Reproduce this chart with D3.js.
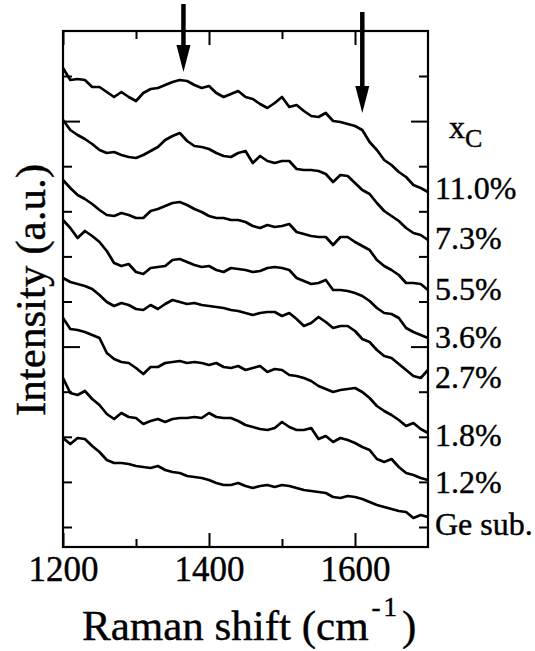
<!DOCTYPE html>
<html>
<head>
<meta charset="utf-8">
<script src="https://cdn.jsdelivr.net/npm/d3@7"></script>
<style>
body { margin: 0; background: #fff; }
svg { display: block; }
text { font-family: "Liberation Serif", "Times New Roman", serif; fill: #000; stroke: #000; stroke-width: 0.4px; }
</style>
</head>
<body>
<svg id="svg"></svg>
<script>
// Raman shift grid (cm-1)
var shift = [1200,1210,1220,1230,1240,1250,1260,1270,1280,1290,
	1300,1310,1320,1330,1340,1350,1360,1370,1380,1390,
	1400,1410,1420,1430,1440,1450,1460,1470,1480,1490,
	1500,1510,1520,1530,1540,1550,1560,1570,1580,1590,
	1600,1610,1620,1630,1640,1650,1660,1670,1680,1690,1700];

// intensities (a.u., offset stacked)
var xc110 = [479,467,468,467,460,460,455,450,455,450,446,454,458,459,462,465,467,466,462,459,
	461,454,450,453,456,450,448,443,439,444,450,440,442,436,431,430,434,426,425,423,
	421,417,405,397,387,382,375,370,362,359,355];
var xc73 = [427,417,412,408,403,397,394,395,392,390,389,392,396,400,407,411,414,406,401,400,
	398,394,391,390,394,396,384,391,386,384,386,386,378,377,377,376,373,365,372,371,
	364,357,353,344,336,331,326,319,314,312,307];
var xc55 = [367,359,352,348,343,337,332,331,334,332,329,329,336,338,341,344,345,342,338,335,
	331,329,329,327,327,325,321,319,322,320,321,323,315,313,311,310,310,302,310,310,
	305,301,297,287,281,277,272,264,264,263,257];
var xc36 = [327,319,309,316,311,305,296,284,281,283,275,273,279,280,281,287,288,285,282,280,
	281,277,275,279,278,277,275,276,279,280,279,277,269,266,263,264,267,257,257,256,
	254,251,246,239,234,233,229,219,215,212,209];
var xc27 = [269,265,263,261,258,252,245,241,244,242,238,237,242,238,243,247,245,243,244,242,
	241,240,239,237,236,234,232,234,235,235,231,234,228,221,224,230,225,219,221,221,
	216,208,205,197,191,189,183,177,171,169,177];
var xc18 = [229,218,217,215,212,209,194,188,185,184,179,173,180,180,184,185,186,184,185,184,
	182,184,180,179,181,177,179,181,175,178,177,172,171,169,166,161,158,155,157,158,
	159,155,149,141,136,132,127,121,124,118,114];
var xc12 = [169,154,152,156,148,142,133,128,134,130,129,123,126,128,125,128,129,129,130,129,
	134,130,129,129,126,122,120,118,117,119,125,120,117,117,119,108,111,105,109,107,
	104,100,97,88,85,88,80,74,72,69,67];
var geSub = [109,103,109,108,101,95,87,84,84,83,81,80,79,81,77,75,74,71,70,69,
	67,64,62,62,64,61,59,61,62,60,62,61,59,57,56,55,54,50,49,51,
	50,48,45,42,40,38,36,35,29,32,30];

var series = [xc110, xc73, xc55, xc36, xc27, xc18, xc12, geSub];
var labels = ["11.0%", "7.3%", "5.5%", "3.6%", "2.7%", "1.8%", "1.2%", "Ge sub."];
var arrowShifts = [1365, 1610];
var xMajor = [1200, 1400, 1600];
var xMinor = [1300, 1500];

var width = 535, height = 651;
var pLeft = 63, pRight = 428, pTop = 31, pBottom = 547;

var svg = d3.select("#svg").attr("width", width).attr("height", height);

var x = d3.scaleLinear().domain([1200, 1700]).range([pLeft, pRight]);
var y = d3.scaleLinear().domain([0, 516]).range([pBottom, pTop]);

// y ticks: equally spaced, every fifth one long
var yTicks = [], yMajor = [];
for (var i = 0; i < 11; i++) {
	var v = 20 + 45.1 * i;
	if (i == 4 || i == 9) yMajor.push(v); else yTicks.push(v);
}

function axisStyle(g) {
	g.select(".domain").remove();
	g.selectAll("line").attr("stroke", "#000").attr("stroke-width", 2);
}

// bottom axis
svg.append("g").attr("transform", "translate(0," + pBottom + ")")
	.call(d3.axisBottom(x).tickValues(xMajor).tickSizeInner(-14).tickSizeOuter(0).tickPadding(9).tickFormat(d3.format("d")))
	.call(axisStyle)
	.selectAll("text").attr("font-size", 35).attr("dy", "0.71em").style("font-family", "Liberation Serif");
svg.append("g").attr("transform", "translate(0," + pBottom + ")")
	.call(d3.axisBottom(x).tickValues(xMinor).tickSizeInner(-8).tickSizeOuter(0).tickFormat(""))
	.call(axisStyle);
// top axis
svg.append("g").attr("transform", "translate(0," + pTop + ")")
	.call(d3.axisTop(x).tickValues(xMajor).tickSizeInner(-14).tickSizeOuter(0).tickFormat(""))
	.call(axisStyle);
svg.append("g").attr("transform", "translate(0," + pTop + ")")
	.call(d3.axisTop(x).tickValues(xMinor).tickSizeInner(-8).tickSizeOuter(0).tickFormat(""))
	.call(axisStyle);
// left / right axes
[[d3.axisLeft, pLeft], [d3.axisRight, pRight]].forEach(function(a) {
	svg.append("g").attr("transform", "translate(" + a[1] + ",0)")
		.call(a[0](y).tickValues(yTicks).tickSizeInner(-9).tickSizeOuter(0).tickFormat(""))
		.call(axisStyle);
	svg.append("g").attr("transform", "translate(" + a[1] + ",0)")
		.call(a[0](y).tickValues(yMajor).tickSizeInner(-17).tickSizeOuter(0).tickFormat(""))
		.call(axisStyle);
});

// frame
svg.append("rect")
	.attr("x", pLeft).attr("y", pTop)
	.attr("width", pRight - pLeft).attr("height", pBottom - pTop)
	.attr("fill", "none").attr("stroke", "#000").attr("stroke-width", 2.2);

// spectra
var line = d3.line()
	.x(function(d, i) { return x(shift[i]); })
	.y(function(d) { return y(d); });

svg.append("g").selectAll("path")
	.data(series)
	.enter()
	.append("path")
	.attr("d", line)
	.attr("fill", "none")
	.attr("stroke", "#000")
	.attr("stroke-width", 2.7)
	.attr("stroke-linejoin", "round");

// labels on the right
var labelBase = [199, 249, 300, 348, 388, 446, 493, 535];
svg.append("g").selectAll("text")
	.data(labels)
	.enter()
	.append("text")
	.attr("x", 435)
	.attr("y", function(d, i) { return labelBase[i]; })
	.attr("font-size", 32)
	.text(function(d) { return d; });

var xcLabel = svg.append("text").attr("x", 449).attr("y", 138).attr("font-size", 32);
xcLabel.append("tspan").text("x");
xcLabel.append("tspan").attr("font-size", 26).attr("dy", 9).text("C");

// arrows marking the D and G bands
var arrows = [{top: 4, tip: 72}, {top: 12, tip: 113}];
arrows.forEach(function(a, i) {
	var ax = x(arrowShifts[i]);
	svg.append("line")
		.attr("x1", ax).attr("x2", ax)
		.attr("y1", a.top).attr("y2", a.tip - 20)
		.attr("stroke", "#000").attr("stroke-width", 4.5);
	svg.append("path")
		.attr("d", "M" + (ax - 7) + "," + (a.tip - 27) + "L" + (ax + 7) + "," + (a.tip - 27) + "L" + ax + "," + a.tip + "Z")
		.attr("fill", "#000");
});

// axis titles
var xt = svg.append("text").attr("x", 82).attr("y", 640).attr("font-size", 43)
	.text("Raman shift (cm");
var xtEnd = 82 + xt.node().getComputedTextLength();
var sup = svg.append("text").attr("x", xtEnd + 3).attr("y", 616).attr("font-size", 27)
	.attr("letter-spacing", 3).text("-1");
var supEnd = xtEnd + 3 + sup.node().getComputedTextLength();
svg.append("text").attr("x", supEnd + 2).attr("y", 640).attr("font-size", 43).text(")");

svg.append("text")
	.attr("transform", "translate(45,290) rotate(-90)")
	.attr("text-anchor", "middle")
	.attr("font-size", 43)
	.text("Intensity (a.u.)");
</script>
</body>
</html>
